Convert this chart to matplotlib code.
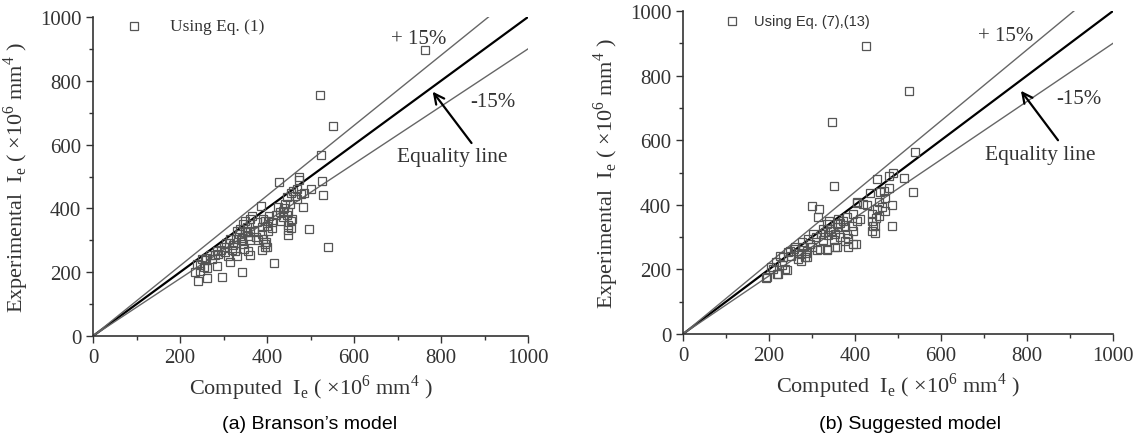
import numpy as np
import matplotlib.pyplot as plt
from matplotlib.ticker import MultipleLocator

# (a) Branson's model: computed vs experimental Ie (x10^6 mm^4)
branson_x = [764, 521, 552, 523, 527, 529, 540, 496, 482, 500, 486, 474, 474, 428, 416,
             342, 296, 263, 241, 234, 246, 263, 284, 315, 361, 386,
             460, 445, 456, 441, 426, 437, 449, 457, 449, 449, 449, 437, 432, 411, 403,
             391, 376, 388, 403, 388, 391, 395, 388, 361, 365, 361, 357, 350, 338, 353,
             342, 345, 322, 300, 303, 326, 288, 273, 257, 280, 312, 328, 357, 395, 400,
             412, 420, 440, 452, 465, 470, 330, 335, 340, 315, 305, 295, 285, 270, 260,
             250, 240, 345, 350, 355, 360, 370, 375, 380, 395, 405, 398, 320, 310, 330,
             348, 245, 255, 400, 455, 455, 445, 430, 470, 478]
branson_y = [895, 754, 658, 568, 485, 443, 280, 334, 403, 461, 448, 500, 488, 482, 230,
             201, 185, 182, 173, 200, 224, 213, 221, 231, 253, 407,
             456, 436, 448, 415, 404, 373, 388, 367, 347, 318, 331, 393, 362, 357, 362,
             367, 357, 341, 330, 320, 305, 289, 270, 367, 377, 325, 315, 325, 335, 343,
             308, 288, 284, 280, 263, 266, 258, 242, 237, 255, 293, 305, 268, 280, 345,
             340, 380, 400, 415, 440, 430, 330, 320, 300, 305, 290, 270, 265, 255, 245,
             240, 225, 350, 360, 330, 300, 330, 310, 300, 360, 375, 295, 270, 250, 250,
             272, 205, 215, 280, 360, 340, 380, 390, 460, 445]

# (b) Suggested model
suggest_x = [425, 525, 347, 539, 351, 515, 534, 489, 480, 450, 487, 487, 478, 467, 435,
             429, 300, 317, 315, 405, 446, 446, 193, 221, 242, 275, 289, 311, 336, 358,
             384, 403, 384, 458, 462, 450, 439, 439, 439, 441, 419, 404, 396, 381, 404,
             392, 396, 381, 377, 396, 353, 334, 319, 376, 357, 342, 334, 326, 353, 338,
             373, 412, 268, 284, 237, 218, 195, 288, 274, 260, 248, 232, 217, 205, 225,
             244, 258, 276, 291, 279, 295, 302, 310, 320, 330, 345, 360, 365, 470, 455,
             300, 285, 268, 250, 230, 210, 365, 350, 325, 455, 448, 360, 340, 470]
suggest_y = [892, 751, 657, 565, 457, 482, 440, 500, 488, 479, 399, 333, 452, 443, 436,
             399, 397, 387, 361, 405, 314, 335, 172, 186, 199, 227, 239, 261, 261, 268,
             270, 280, 296, 439, 392, 387, 371, 351, 320, 335, 402, 408, 371, 361, 351,
             335, 320, 310, 289, 279, 268, 263, 263, 331, 341, 325, 341, 325, 310, 305,
             351, 356, 232, 237, 201, 186, 175, 258, 247, 268, 258, 238, 222, 206, 243,
             253, 263, 284, 294, 268, 279, 310, 300, 310, 315, 320, 330, 345, 420, 410,
             270, 250, 250, 240, 215, 200, 300, 290, 290, 365, 360, 355, 350, 380]

serif = 'Liberation Serif'
ink = '#333333'

fig = plt.figure(figsize=(11.39, 4.39), dpi=100)
ax1 = fig.add_axes([93 / 1139, 102 / 439, 435 / 1139, 319 / 439])
ax2 = fig.add_axes([683 / 1139, 104 / 439, 430 / 1139, 323 / 439])

line = np.array([0, 1000])

panels = [
    (ax1, branson_x, branson_y, 'Using Eq. (1)', serif, 12.5, '(a) Branson\u2019s model', 310,
     (95, 971), (177, 971), (748, 932), (919, 736), (826, 564), (777, 773), (874, 598)),
    (ax2, suggest_x, suggest_y, 'Using Eq. (7),(13)', 'Liberation Sans', 10.5, '(b) Suggested model', 910,
     (114, 969), (165, 969), (750, 925), (921, 729), (830, 557), (782, 760), (876, 593)),
]

for (ax, xs, ys, leg, legfont, legsize, cap, capx, mk, lt, p15, m15, eq, head, tail) in panels:
    ax.plot(line, line, color='black', lw=1.6, zorder=2)
    ax.plot(line, 1.1 * line, color='#666666', lw=1.0, zorder=2)
    ax.plot(line, 0.9 * line, color='#666666', lw=1.0, zorder=2)
    ax.plot(xs, ys, 's', ms=5.5, mfc='none', mec='#555555', mew=0.9, zorder=3)

    # legend drawn by hand
    ax.plot([mk[0]], [mk[1]], 's', ms=5.5, mfc='none', mec='#555555', mew=0.9, clip_on=False)
    ax.text(lt[0], lt[1], leg, fontfamily=legfont, fontsize=legsize, color=ink,
            va='center', ha='left')

    ax.text(p15[0], p15[1], '+ 15%', fontfamily=serif, fontsize=15, color=ink,
            ha='center', va='center')
    ax.text(m15[0], m15[1], '-15%', fontfamily=serif, fontsize=15, color=ink,
            ha='center', va='center')
    ax.text(eq[0], eq[1], 'Equality line', fontfamily=serif, fontsize=15.5, color=ink,
            ha='center', va='center')
    ax.annotate('', xy=head, xytext=tail,
                arrowprops=dict(arrowstyle='->', color='black', lw=1.6, mutation_scale=18))

    ax.set_xlim(0, 1000)
    ax.set_ylim(0, 1000)
    ax.xaxis.set_major_locator(MultipleLocator(200))
    ax.yaxis.set_major_locator(MultipleLocator(200))
    ax.xaxis.set_minor_locator(MultipleLocator(100))
    ax.yaxis.set_minor_locator(MultipleLocator(100))
    ax.tick_params(which='major', direction='out', length=5, width=1, color=ink)
    ax.tick_params(which='minor', direction='out', length=3, width=1, color=ink)
    for lab in ax.get_xticklabels() + ax.get_yticklabels():
        lab.set_fontfamily(serif)
        lab.set_fontsize(15)
        lab.set_color(ink)
    ax.spines['top'].set_visible(False)
    ax.spines['right'].set_visible(False)
    for s in ('left', 'bottom'):
        ax.spines[s].set_color(ink)
        ax.spines[s].set_linewidth(1.2)

    ax.set_xlabel('Computed  I$_\\mathregular{e}$ ( \u00d710$^\\mathregular{6}$ mm$^\\mathregular{4}$ )',
                  fontfamily=serif, fontsize=16, color=ink, labelpad=4)
    ax.set_ylabel('Experimental  I$_\\mathregular{e}$ ( \u00d710$^\\mathregular{6}$ mm$^\\mathregular{4}$ )',
                  fontfamily=serif, fontsize=16, color=ink, labelpad=6)

    fig.text(capx / 1139, 0.032, cap, fontfamily='Liberation Sans', fontsize=14,
             ha='center', va='center', color='black')

fig.savefig('out.png', dpi=100)
